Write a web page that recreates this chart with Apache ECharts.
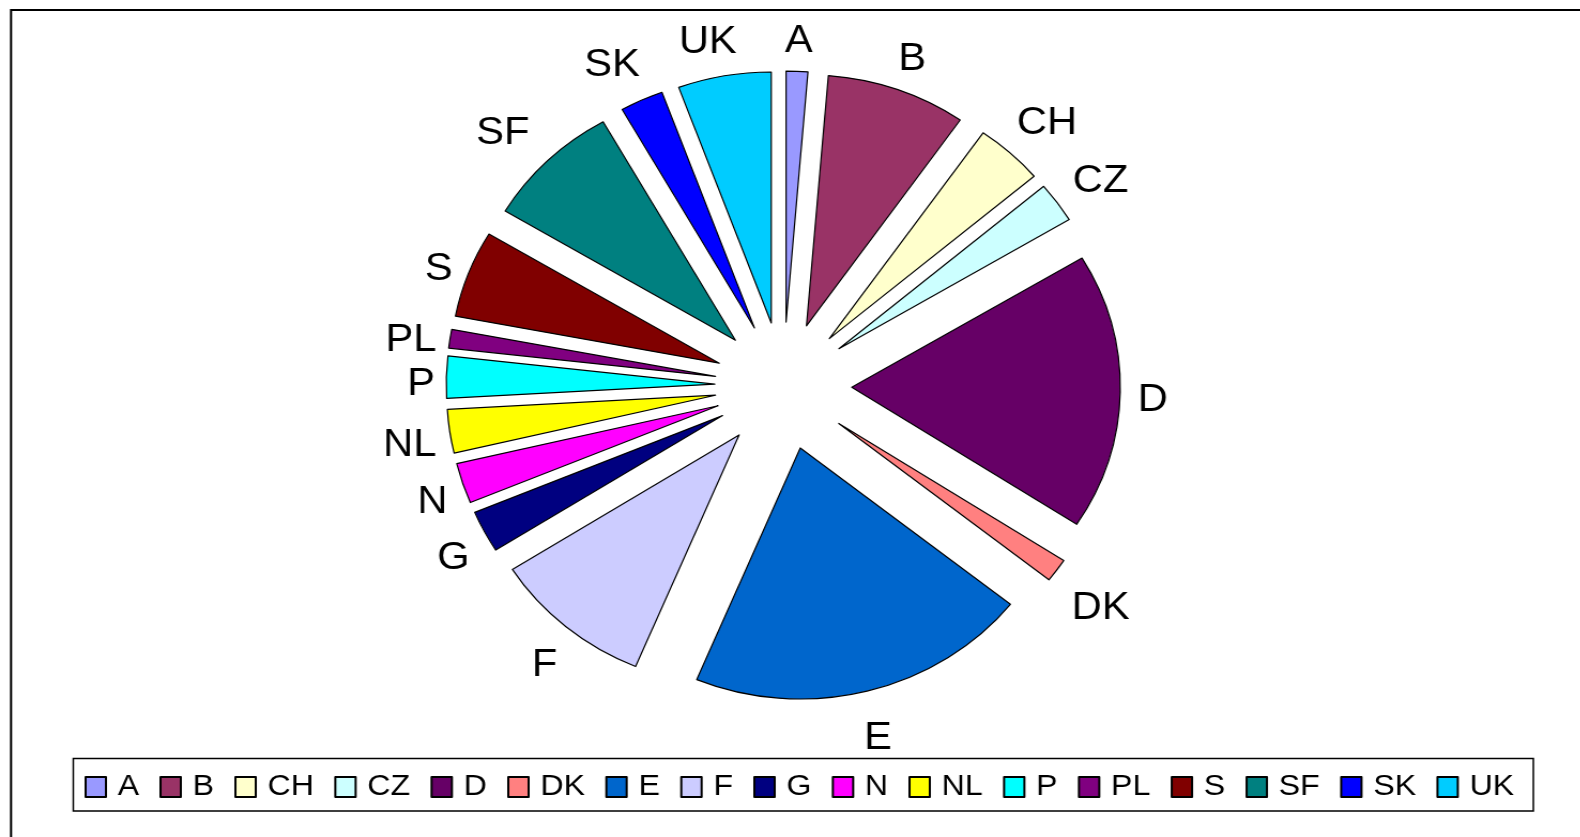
<!DOCTYPE html>
<html>
<head>
<meta charset="utf-8">
<script src="https://cdn.jsdelivr.net/npm/echarts@6/dist/echarts.min.js"></script>
<style>
html,body{margin:0;padding:0;background:#fff;overflow:hidden;width:1580px;height:837px;}
#chart{width:1477px;height:837px;transform:scaleX(1.07);transform-origin:0 0;}
</style>
</head>
<body>
<div id="chart"></div>
<script>
const categories = ['A','B','CH','CZ','D','DK','E','F','G','N','NL','P','PL','S','SF','SK','UK'];
const values = [1.3, 8.4, 4.1, 2.6, 17.8, 1.5, 20.6, 9.7, 2.7, 2.6, 2.8, 2.7, 1.2, 5.6, 8.2, 2.6, 5.6];
const colors = ['#9999FF','#993366','#FFFFCC','#CCFFFF','#660066','#FF8080','#0066CC','#CCCCFF','#000080','#FF00FF','#FFFF00','#00FFFF','#800080','#800000','#008080','#0000FF','#00CCFF'];

const CX = 732, CY = 386, R = 251, OFF = 64, GAP = 16, LABEL_FS = 39;
const font = '"Liberation Sans", Arial, sans-serif';
const total = values.reduce((a, b) => a + b, 0);
function midAngle(i) {
  let cum = 0;
  for (let k = 0; k < i; k++) cum += values[k];
  return (cum + values[i] / 2) / total * Math.PI * 2;
}
const mctx = document.createElement('canvas').getContext('2d');
mctx.font = LABEL_FS + 'px ' + font;

const pieData = categories.map((c, i) => {
  const a = midAngle(i);
  const ux = Math.sin(a), uy = -Math.cos(a);
  const w = mctx.measureText(c).width;
  const len = GAP + (w / 2) * Math.abs(ux) + LABEL_FS * 0.56 * Math.abs(uy);
  let dist = -w / 2;
  if (ux < 0) dist += (uy > -0.6 ? -6 : 8);
  return {
    name: c, value: values[i], selected: true,
    labelLine: {show: false, length: len, length2: 0},
    label: {distanceToLabelLine: dist}
  };
});

const chart = echarts.init(document.getElementById('chart'));
chart.setOption({
  animation: false,
  color: colors,
  graphic: [
    {type:'rect', shape:{x:10.3, y:10, width:1600, height:900}, style:{fill:'none', stroke:'#000', lineWidth:2}, silent:true, z:-10},
    {type:'rect', shape:{x:68.5, y:758.5, width:1364.5, height:52.5}, style:{fill:'#fff', stroke:'#000', lineWidth:1.5}, silent:true, z:-5}
  ],
  legend: {
    data: categories,
    left: 79,
    top: 772,
    padding: 0,
    icon: 'rect',
    itemWidth: 19,
    itemHeight: 20,
    itemGap: 19,
    selectedMode: false,
    textStyle: {fontFamily: font, fontSize: 30, color: '#000', padding:[0,0,0,6]}
  },
  series: [{
    type: 'pie',
    center: [CX, CY],
    radius: [0, R],
    startAngle: 90,
    clockwise: true,
    selectedMode: 'multiple',
    selectedOffset: OFF,
    avoidLabelOverlap: false,
    minShowLabelAngle: 0,
    itemStyle: {borderColor:'#000', borderWidth:1.2},
    label: {
      show:true, position:'outside', fontFamily: font, fontSize: LABEL_FS, lineHeight: 45, color:'#000',
      formatter: function (p) { return '{sp| }\n' + p.name; },
      rich: {sp: {fontSize: 1, lineHeight: 16}}
    },
    labelLine: {show:false},
    labelLayout: {hideOverlap: false},
    emphasis: {disabled:true},
    data: pieData
  }]
});
</script>
</body>
</html>
